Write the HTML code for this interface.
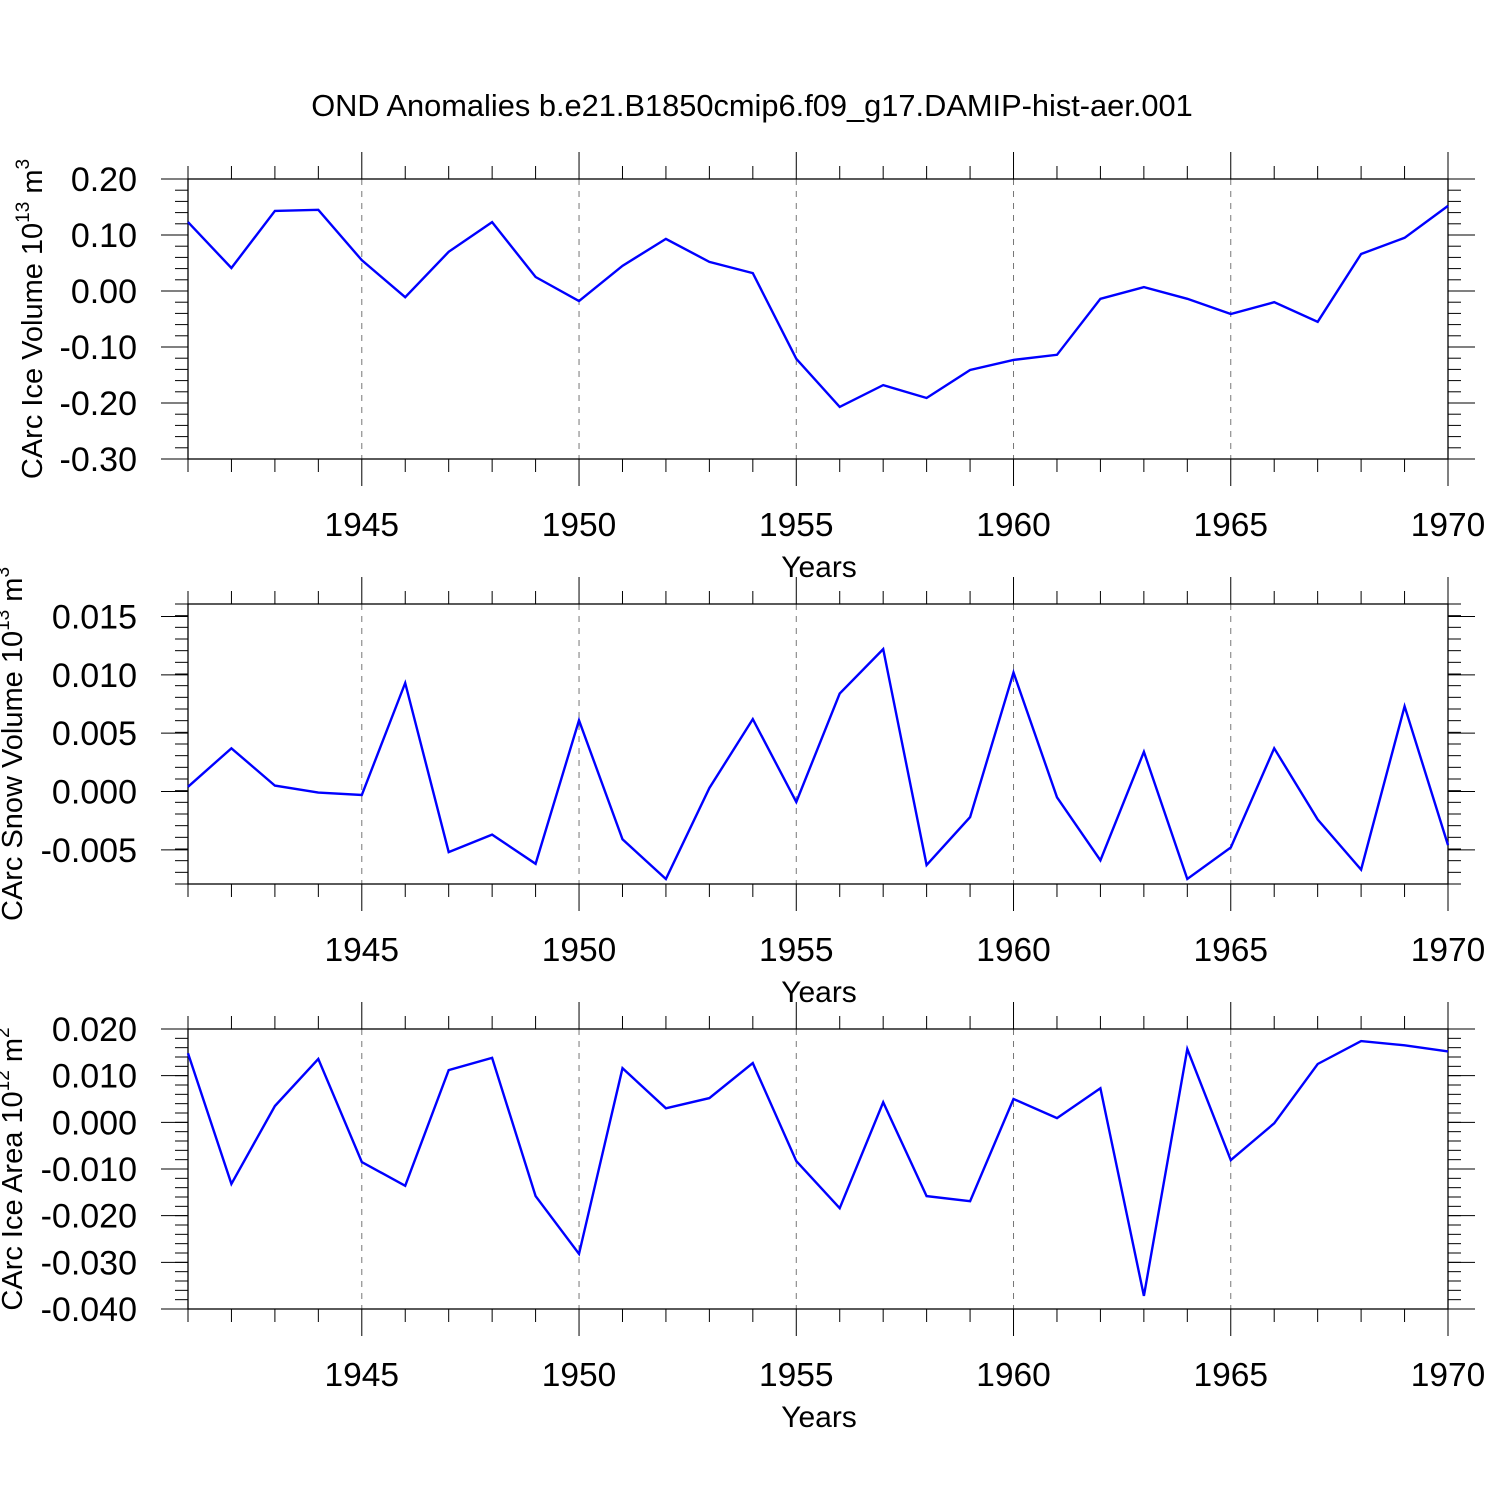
<!DOCTYPE html>
<html><head><meta charset="utf-8"><style>
html,body{margin:0;padding:0;background:#fff;}
svg{display:block;font-family:"Liberation Sans",sans-serif;}
</style></head><body>
<svg id="chart" width="1500" height="1500" viewBox="0 0 1500 1500">
<text x="752" y="116" font-size="30.8" text-anchor="middle">OND Anomalies b.e21.B1850cmip6.f09_g17.DAMIP-hist-aer.001</text>
</svg>
<script>
const years = [1941,1942,1943,1944,1945,1946,1947,1948,1949,1950,1951,1952,1953,1954,1955,1956,1957,1958,1959,1960,1961,1962,1963,1964,1965,1966,1967,1968,1969,1970];
const iceVolume = [0.123,0.041,0.143,0.145,0.055,-0.011,0.070,0.123,0.025,-0.018,0.045,0.093,0.052,0.032,-0.121,-0.207,-0.168,-0.191,-0.141,-0.123,-0.114,-0.014,0.007,-0.014,-0.041,-0.020,-0.055,0.066,0.095,0.152];
const snowVolume = [0.0004,0.0037,0.0005,-0.0001,-0.0003,0.0093,-0.0052,-0.0037,-0.0062,0.0061,-0.0041,-0.0075,0.0003,0.0062,-0.0009,0.0084,0.0122,-0.0063,-0.0022,0.0102,-0.0005,-0.0059,0.0034,-0.0075,-0.0048,0.0037,-0.0024,-0.0067,0.0073,-0.0046];
const iceArea = [0.0148,-0.0132,0.0035,0.0136,-0.0085,-0.0136,0.0112,0.0138,-0.0158,-0.0282,0.0116,0.0030,0.0052,0.0127,-0.0083,-0.0184,0.0043,-0.0158,-0.0169,0.0050,0.0009,0.0073,-0.0372,0.0157,-0.0081,-0.0002,0.0125,0.0174,0.0165,0.0152];
const xTickYears = [1945,1950,1955,1960,1965,1970];
const iceVolTicks = [0.20,0.10,0.00,-0.10,-0.20,-0.30];
const snowTicks = [0.015,0.010,0.005,0.000,-0.005];
const areaTicks = [0.020,0.010,0.000,-0.010,-0.020,-0.030,-0.040];

const NS='http://www.w3.org/2000/svg';
const svg=document.getElementById('chart');
const X0=188,X1=1448,xMin=1941,xMax=1970;
const xs=v=>X0+(v-xMin)/(xMax-xMin)*(X1-X0);
function mk(tag,attrs,parent){const e=document.createElementNS(NS,tag);for(const k in attrs)e.setAttribute(k,attrs[k]);(parent||svg).appendChild(e);return e;}

function panel(name,top,bottom,yMin,yMax,ticks,minorStep,dec,data,label,unitExp,unitPow,titleX){
  const g=mk('g',{});
  
  
  const ys=v=>bottom-(v-yMin)/(yMax-yMin)*(bottom-top);
  xTickYears.forEach(y=>{ if(y<xMax){const l=mk('line',{x1:xs(y),x2:xs(y),y1:top,y2:bottom,stroke:'#777','stroke-width':1,'stroke-dasharray':'6,6'},g);
    
    }});
  const fr=mk('rect',{x:X0,y:top,width:X1-X0,height:bottom-top,fill:'none',stroke:'#000','stroke-width':1.3},g);
  
  
  for(let y=xMin;y<=xMax;y++){
    const maj=xTickYears.includes(y); const len=maj?27:13;
    mk('line',{x1:xs(y),x2:xs(y),y1:top,y2:top-len,stroke:'#000','stroke-width':1},g);
    mk('line',{x1:xs(y),x2:xs(y),y1:bottom,y2:bottom+len,stroke:'#000','stroke-width':1},g);
  }
  xTickYears.forEach(y=>{const t=mk('text',{x:xs(y),y:bottom+77,'font-size':33.5,'text-anchor':'middle'},g);t.textContent=y;
    
    });
  const yt=mk('text',{x:819,y:bottom+118,'font-size':30,'text-anchor':'middle'},g);yt.textContent='Years';
  
  
  const n=Math.round((yMax-yMin)/minorStep);
  for(let i=0;i<=n;i++){const v=yMin+i*minorStep;const yy=ys(v); if(yy<top-0.5||yy>bottom+0.5)continue;
    mk('line',{x1:X0,x2:X0-13,y1:yy,y2:yy,stroke:'#000','stroke-width':1},g);
    mk('line',{x1:X1,x2:X1+13,y1:yy,y2:yy,stroke:'#000','stroke-width':1},g);}
  ticks.forEach(v=>{const yy=ys(v);
    mk('line',{x1:X0,x2:X0-27,y1:yy,y2:yy,stroke:'#000','stroke-width':1},g);
    mk('line',{x1:X1,x2:X1+27,y1:yy,y2:yy,stroke:'#000','stroke-width':1},g);
    const t=mk('text',{x:137,y:yy+12,'font-size':34,'text-anchor':'end'},g);t.textContent=v.toFixed(dec);
    
    });
  const cy=(top+bottom)/2;
  const tt=mk('text',{x:0,y:0,'font-size':29,'text-anchor':'middle',transform:`translate(${titleX},${cy}) rotate(-90)`},g);
  tt.innerHTML=label+' 10<tspan dy="-13" font-size="19">'+unitExp+'</tspan><tspan dy="13"> m</tspan><tspan dy="-13" font-size="19">'+unitPow+'</tspan>';
  
  
  const pts=data.map((v,i)=>xs(years[i]).toFixed(1)+','+ys(v).toFixed(1)).join(' ');
  const pl=mk('polyline',{points:pts,fill:'none',stroke:'#0000ff','stroke-width':2.4,'stroke-linejoin':'miter'},g);
  
  
}
panel('ice-volume',179,459,-0.30,0.20,iceVolTicks,0.02,2,iceVolume,'CArc Ice Volume','13','3',42);
panel('snow-volume',604,884,-0.00793,0.01607,snowTicks,0.001,3,snowVolume,'CArc Snow Volume','13','3',22);
panel('ice-area',1029,1309,-0.040,0.020,areaTicks,0.002,3,iceArea,'CArc Ice Area','12','2',22);
</script>
</body></html>
